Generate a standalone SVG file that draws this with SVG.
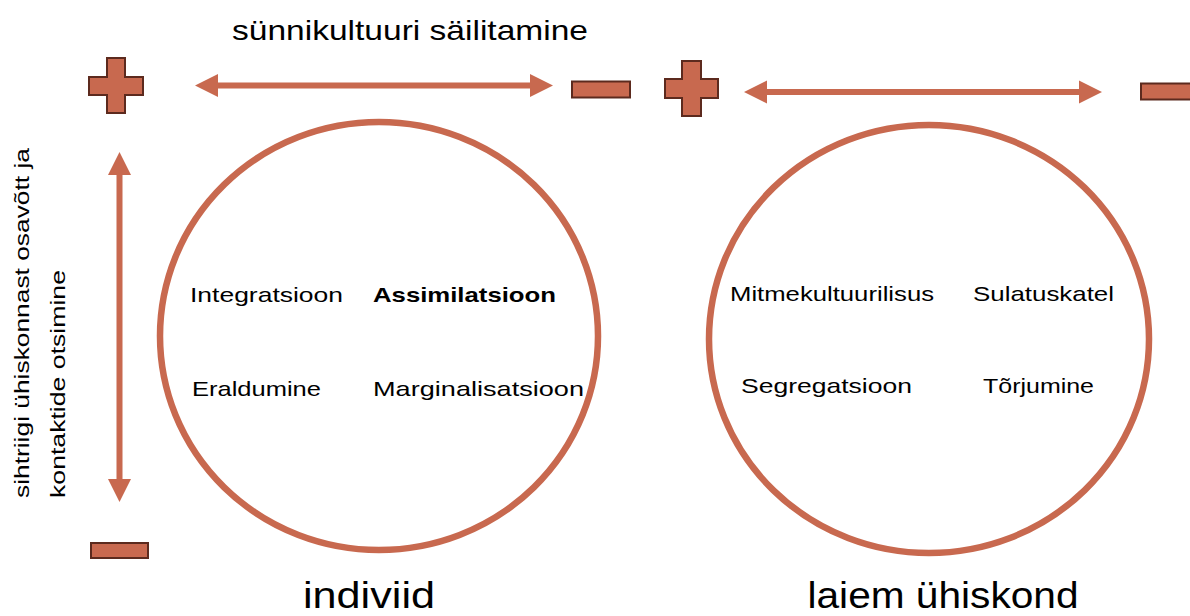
<svg xmlns="http://www.w3.org/2000/svg" width="1190" height="616" viewBox="0 0 1190 616">
<style>
.sym{fill:#C8694F;stroke:#5C2A1E;stroke-width:2}
.ring{fill:none;stroke:#C8694F;stroke-width:6.5}
.arr{fill:#C8694F;stroke:none}
.t{font-family:"Liberation Sans",Arial,sans-serif;fill:#000}
.lbl{font-size:21px}
.big{font-size:36px}
</style>
<rect width="1190" height="616" fill="#fff"/>
<g id="plus-left">
<path class="sym" d="M107,58 H125 V77 H143 V95 H125 V113 H107 V95 H89 V77 H107 Z"/>
</g>
<g id="minus-top-left"><rect class="sym" x="572" y="81.5" width="58" height="16"/></g>
<g id="plus-right">
<path class="sym" d="M682,61 H701 V79 H718 V98 H701 V116 H682 V98 H665 V79 H682 Z"/>
</g>
<g id="minus-top-right"><rect class="sym" x="1141" y="83.5" width="60" height="16"/></g>
<g id="minus-bottom"><rect class="sym" x="91" y="543" width="57" height="15"/></g>
<g id="connectors">
<path class="arr" d="M195,85.5 L218,74 V82.5 H530 V74 L553,85.5 L530,97 V88.5 H218 V97 Z"/>
<path class="arr" d="M744,92 L767,80.5 V89 H1079 V80.5 L1102,92 L1079,103.5 V95 H767 V103.5 Z"/>
<path class="arr" d="M119.5,152 L131,175 H122.5 V479 H131 L119.5,502 L108,479 H116.5 V175 H108 Z"/>
</g>
<g id="title-top"><text class="t" x="410" y="40" font-size="28" text-anchor="middle" textLength="356" lengthAdjust="spacingAndGlyphs">sünnikultuuri säilitamine</text></g>
<g id="axis-label">
<text class="t" font-size="20" transform="translate(29,498) rotate(-90)" textLength="350" lengthAdjust="spacingAndGlyphs">sihtriigi ühiskonnast osavõtt ja</text>
<text class="t" font-size="20" transform="translate(65,498) rotate(-90)" textLength="228" lengthAdjust="spacingAndGlyphs">kontaktide otsimine</text>
</g>
<g id="individ">
<ellipse class="ring" cx="379" cy="336" rx="219" ry="214"/>
<text class="t lbl" x="190" y="302" textLength="153" lengthAdjust="spacingAndGlyphs">Integratsioon</text>
<text class="t lbl" x="373" y="302" font-weight="bold" textLength="183" lengthAdjust="spacingAndGlyphs">Assimilatsioon</text>
<text class="t lbl" x="192" y="396" textLength="129" lengthAdjust="spacingAndGlyphs">Eraldumine</text>
<text class="t lbl" x="373" y="396" textLength="211" lengthAdjust="spacingAndGlyphs">Marginalisatsioon</text>
<text class="t big" x="369" y="608" text-anchor="middle" textLength="132" lengthAdjust="spacingAndGlyphs">indiviid</text>
</g>
<g id="society">
<ellipse class="ring" cx="929" cy="339" rx="220" ry="214"/>
<text class="t lbl" x="730" y="301" textLength="204" lengthAdjust="spacingAndGlyphs">Mitmekultuurilisus</text>
<text class="t lbl" x="973" y="301" textLength="141" lengthAdjust="spacingAndGlyphs">Sulatuskatel</text>
<text class="t lbl" x="741" y="393" textLength="171" lengthAdjust="spacingAndGlyphs">Segregatsioon</text>
<text class="t lbl" x="983" y="393" textLength="111" lengthAdjust="spacingAndGlyphs">Tõrjumine</text>
<text class="t big" x="943" y="608" text-anchor="middle" textLength="271" lengthAdjust="spacingAndGlyphs">laiem ühiskond</text>
</g>
</svg>
